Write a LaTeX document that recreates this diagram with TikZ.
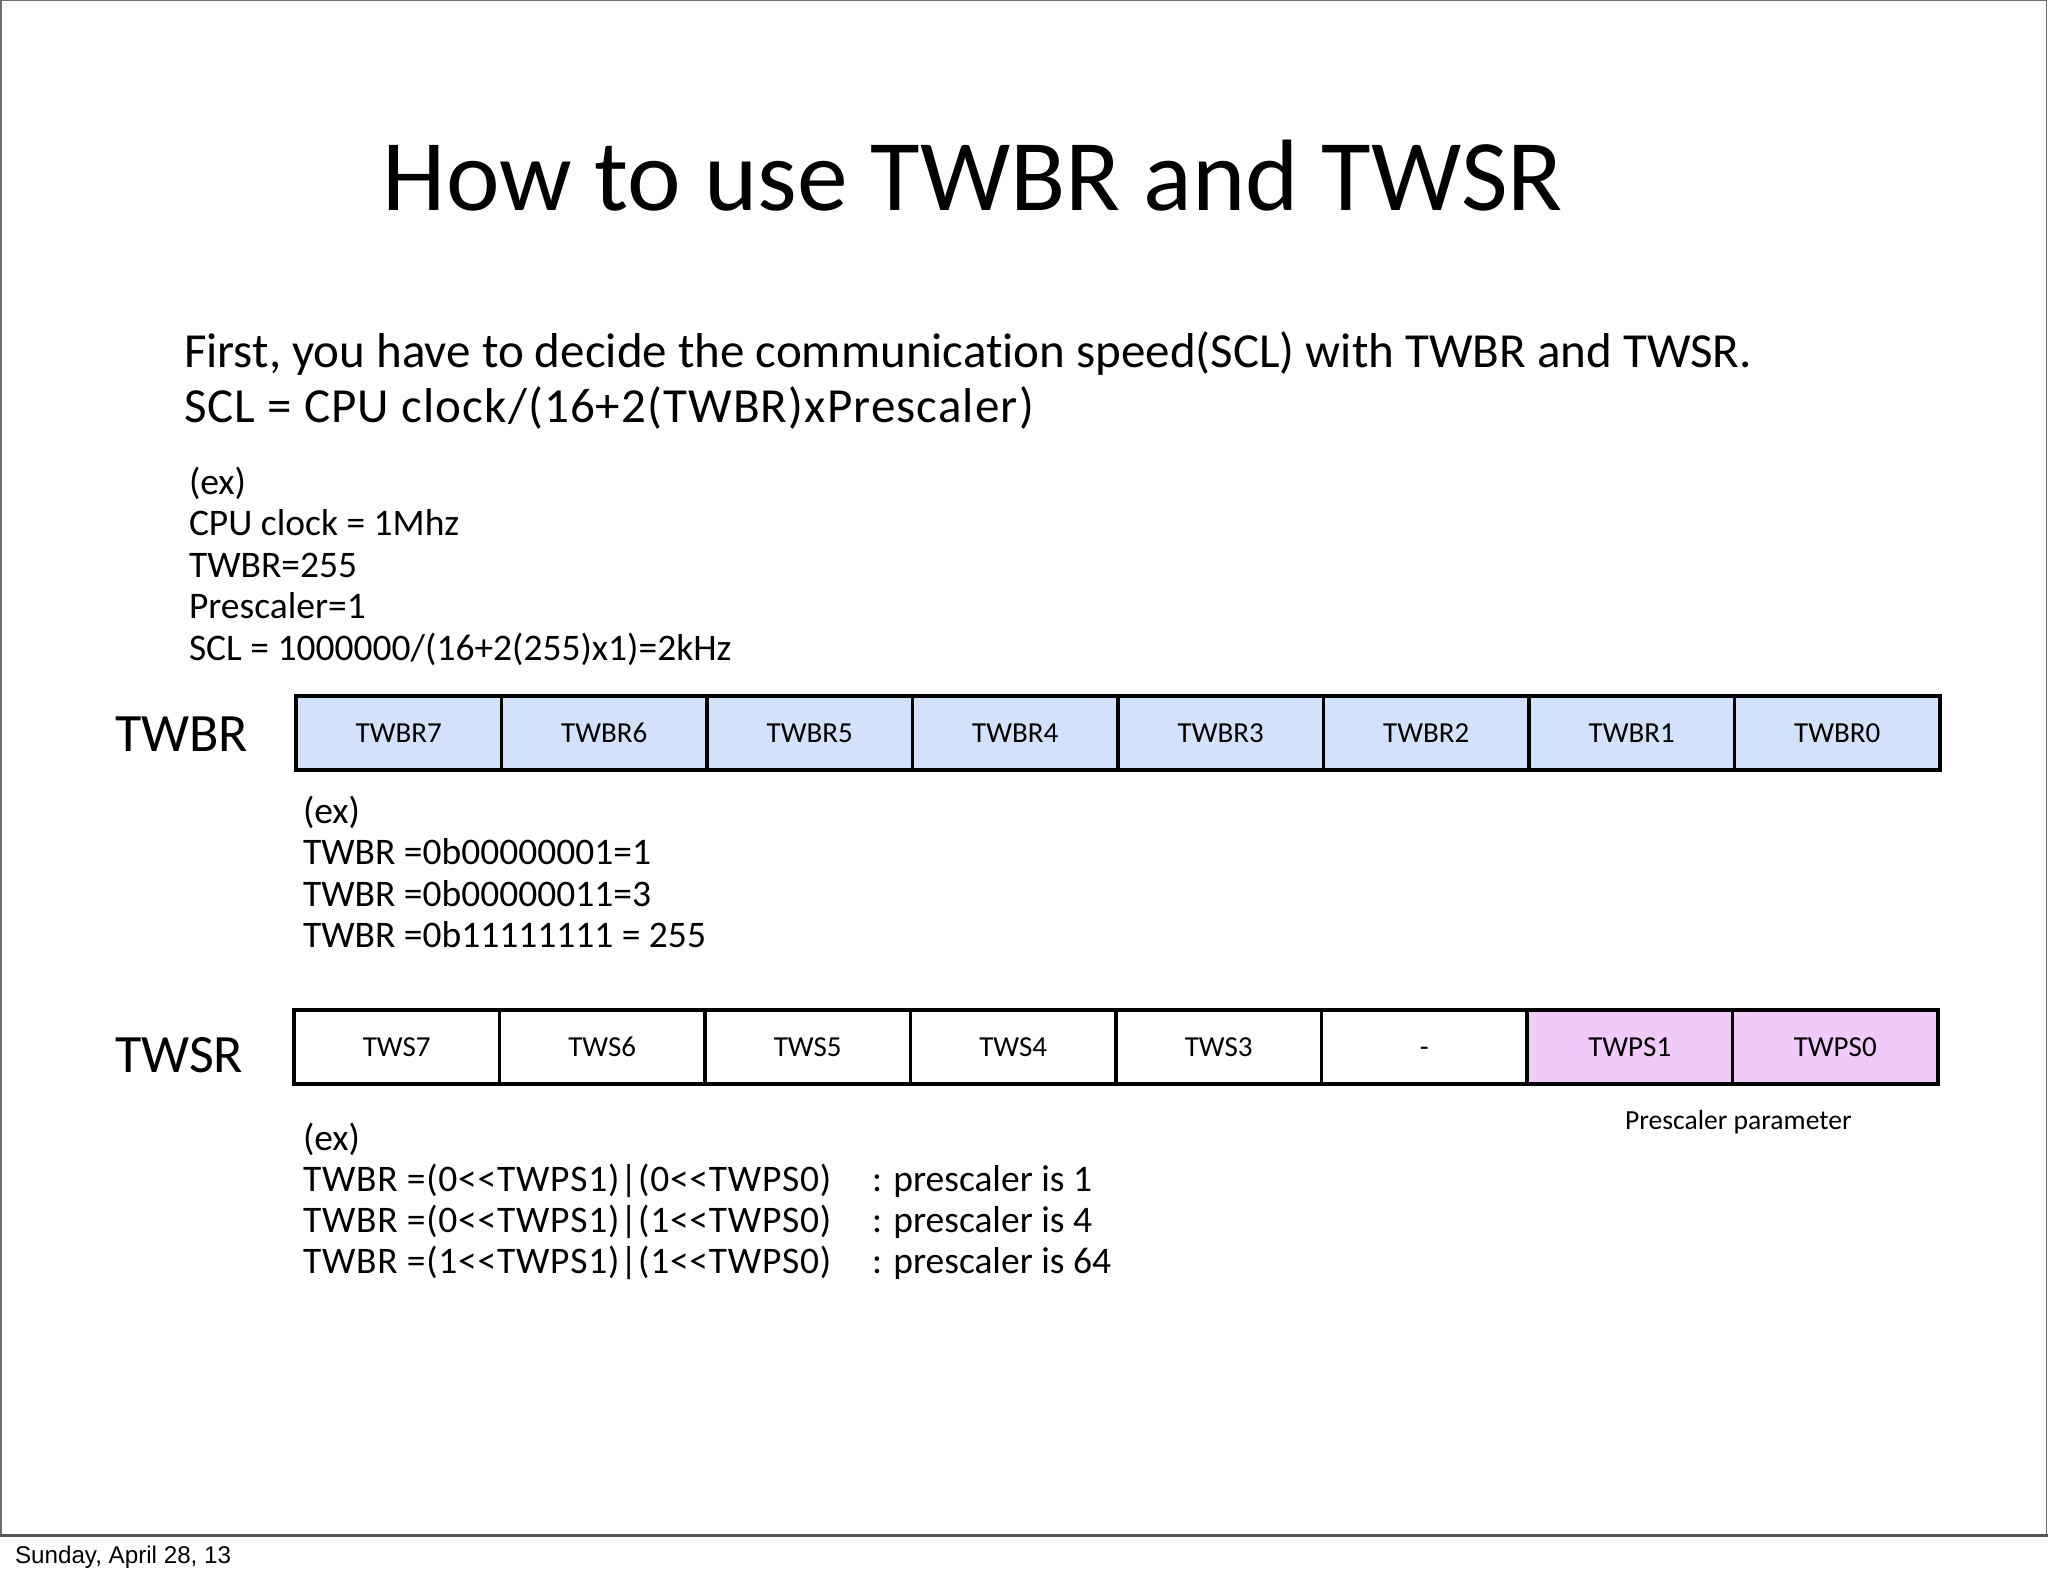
\documentclass[tikz,border=0pt]{standalone}
\usepackage{fontspec}
\setmainfont{Carlito}[Ligatures={TeXOff,NoCommon}]
\newfontfamily\footfont{Liberation Sans}
\definecolor{regblue}{RGB}{211,226,251}
\definecolor{regpink}{RGB}{240,202,248}
\definecolor{framegray}{RGB}{110,110,110}
\definecolor{footgray}{RGB}{85,85,85}
\tikzset{
  cell/.style={draw=black, line width=3.5pt, minimum width=205.5pt, minimum height=74pt,
    inner sep=0pt, outer sep=0pt, text height=18.5pt, text depth=0pt,
    font=\fontsize{29}{29}\selectfont},
  outerbox/.style={draw=black, line width=4.5pt},
  txt/.style={inner sep=0pt, outer sep=0pt, anchor=base west},
  body/.style={txt, font=\fontsize{49}{49}\selectfont},
  small/.style={txt, font=\fontsize{37.5}{37.5}\selectfont},
  reglabel/.style={txt, font=\fontsize{54}{54}\selectfont},
}
\begin{document}
\begin{tikzpicture}[x=1pt,y=-1pt]
\useasboundingbox (0,0) rectangle (2048,1576);
\fill[white] (0,0) rectangle (2048,1576);
% slide frame
\draw[framegray, line width=1.5pt] (0.75,1535) -- (0.75,0.75) -- (2046.5,0.75) -- (2046.5,1535);
\draw[footgray, line width=3pt] (0,1535) -- (2048,1535);
\node[txt, font=\footfont\fontsize{24.2}{24.2}\selectfont] (date) at (15,1563) {Sunday, April 28, 13};

% title
\node[inner sep=0pt, anchor=base, font=\fontsize{101.5}{101.5}\selectfont] (title) at (973,210) {How to use TWBR and TWSR};

% intro
\node[body] (intro1) at (184,367) {First, you have to decide the communication speed(SCL) with TWBR and TWSR.};
\node[body] (intro2) at (184,422) {\addfontfeature{LetterSpace=2.3}SCL = CPU clock/(16+2(TWBR)xPrescaler)};

\node[small] (ex1) at (189,494) {(ex)};
\node[small] (ex2) at (189,535) {CPU clock = 1Mhz};
\node[small] (ex3) at (189,577) {TWBR=255};
\node[small] (ex4) at (189,618) {Prescaler=1};
\node[small] (ex5) at (189,660) {SCL = 1000000/(16+2(255)x1)=2kHz};

% TWBR register
\node[reglabel] (twbrlabel) at (115,751) {TWBR};
\foreach \n [count=\i from 0] in {7,6,5,4,3,2,1,0} {
  \node[cell, fill=regblue] (b\n) at ({398.75+205.5*\i},733) {TWBR\n};
}
\draw[outerbox] (b7.north west) rectangle (b0.south east);

\node[small] (tb1) at (303,823) {(ex)};
\node[small] (tb2) at (303,864) {TWBR =0b00000001=1};
\node[small] (tb3) at (303,906) {TWBR =0b00000011=3};
\node[small] (tb4) at (303,947) {TWBR =0b11111111 = 255};

% TWSR register
\node[reglabel] (twsrlabel) at (115,1072) {TWSR};
\foreach \n/\t [count=\i from 0] in {7/TWS7,6/TWS6,5/TWS5,4/TWS4,3/TWS3,2/-} {
  \node[cell, fill=white] (s\n) at ({396.75+205.5*\i},1047) {\t};
}
\node[cell, fill=regpink] (s1) at ({396.75+205.5*6},1047) {TWPS1};
\node[cell, fill=regpink] (s0) at ({396.75+205.5*7},1047) {TWPS0};
\draw[outerbox] (s7.north west) rectangle (s0.south east);

\node[txt, font=\fontsize{27.6}{27.6}\selectfont] (pparam) at (1625,1129) {Prescaler parameter};

\node[small] (ts1) at (303,1150) {(ex)};
\node[small] (ts2) at (303,1191) {\addfontfeature{LetterSpace=2}TWBR =(0<<TWPS1)|(0<<TWPS0)};
\node[small] (ts3) at (303,1232) {\addfontfeature{LetterSpace=2}TWBR =(0<<TWPS1)|(1<<TWPS0)};
\node[small] (ts4) at (303,1273) {\addfontfeature{LetterSpace=2}TWBR =(1<<TWPS1)|(1<<TWPS0)};
\node[small] (tr2) at (872,1191) {: prescaler is 1};
\node[small] (tr3) at (872,1232) {: prescaler is 4};
\node[small] (tr4) at (872,1273) {: prescaler is 64};
\end{tikzpicture}
\end{document}
